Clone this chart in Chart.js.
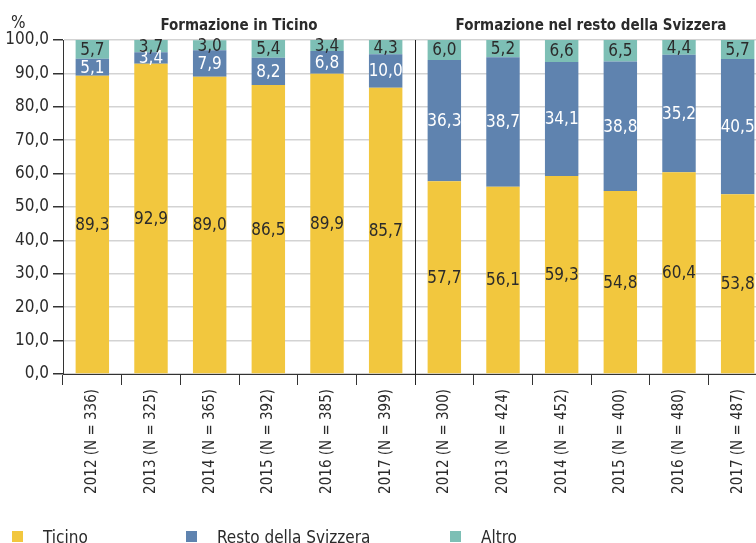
<!DOCTYPE html>
<html lang="it">
<head>
<meta charset="UTF-8">
<title>Formazione</title>
<script src="https://cdn.jsdelivr.net/npm/chart.js"></script>
<style>
  html, body { margin: 0; padding: 0; overflow: hidden; background: #fff; }
  #wrap { position: relative; width: 780px; height: 543px; }
  .leg { position: absolute; top: 527px; font: 17px 'Liberation Sans Narrow', 'DejaVu Sans Condensed', 'Roboto Condensed', sans-serif; color: #2b2b2b; white-space: nowrap; }
  .leg span { display: inline-block; width: 11px; height: 11px; margin-right: 20px; vertical-align: 1px; }
</style>
</head>
<body>
<div id="wrap">
  <canvas id="chart"></canvas>
  <div class="leg" style="left:12px"><span style="background:#f2c73e"></span>Ticino</div>
  <div class="leg" style="left:186px"><span style="background:#5f83af"></span>Resto della Svizzera</div>
  <div class="leg" style="left:450px"><span style="background:#7dbfb5"></span>Altro</div>
</div>
<script>
    const FONT = "'Liberation Sans Narrow', 'DejaVu Sans Condensed', 'Roboto Condensed', sans-serif";

    // data
    const labels = [
        '2012 (N = 336)', '2013 (N = 325)', '2014 (N = 365)', '2015 (N = 392)', '2016 (N = 385)', '2017 (N = 399)',
        '2012 (N = 300)', '2013 (N = 424)', '2014 (N = 452)', '2015 (N = 400)', '2016 (N = 480)', '2017 (N = 487)'
    ];
    const groupTitles = ['Formazione in Ticino', 'Formazione nel resto della Svizzera'];
    const ticino = [89.3, 92.9, 89.0, 86.5, 89.9, 85.7, 57.7, 56.1, 59.3, 54.8, 60.4, 53.8];
    const restoSvizzera = [5.1, 3.4, 7.9, 8.2, 6.8, 10.0, 36.3, 38.7, 34.1, 38.8, 35.2, 40.5];
    const altro = [5.7, 3.7, 3.0, 5.4, 3.4, 4.3, 6.0, 5.2, 6.6, 6.5, 4.4, 5.7];

    function fmt(v) {
        return v.toFixed(1).replace('.', ',');
    }

    // numbers inside the bar segments
    const valueLabels = {
        id: 'valueLabels',
        afterDatasetsDraw(chart) {
            const ctx = chart.ctx;
            ctx.save();
            ctx.font = '17px ' + FONT;
            ctx.textAlign = 'center';
            ctx.textBaseline = 'middle';
            chart.data.datasets.forEach((ds, i) => {
                const meta = chart.getDatasetMeta(i);
                meta.data.forEach((bar, j) => {
                    ctx.fillStyle = ds.labelColor;
                    ctx.fillText(fmt(ds.data[j]), bar.x, (bar.y + bar.base) / 2 + 1);
                });
            });
            ctx.restore();
        }
    };

    // group titles, % sign and the separator line
    const decorations = {
        id: 'decorations',
        afterDraw(chart) {
            const ctx = chart.ctx;
            const x = chart.scales.x;
            const area = chart.chartArea;
            const sepX = (x.getPixelForValue(5) + x.getPixelForValue(6)) / 2;
            ctx.save();
            ctx.strokeStyle = '#222';
            ctx.lineWidth = 1;
            ctx.beginPath();
            ctx.moveTo(Math.round(sepX) + 0.5, area.top);
            ctx.lineTo(Math.round(sepX) + 0.5, area.bottom + 11);
            ctx.stroke();

            ctx.fillStyle = '#2b2b2b';
            ctx.textBaseline = 'alphabetic';
            ctx.textAlign = 'center';
            ctx.font = 'bold 15px ' + FONT;
            const c1 = (x.getPixelForValue(2) + x.getPixelForValue(3)) / 2;
            const c2 = (x.getPixelForValue(8) + x.getPixelForValue(9)) / 2;
            ctx.fillText(groupTitles[0], c1, 30);
            ctx.fillText(groupTitles[1], c2, 30);
            ctx.textAlign = 'left';
            ctx.font = '17px ' + FONT;
            ctx.fillText('%', 11, 28);
            ctx.restore();
        }
    };

    new Chart(document.getElementById('chart'), {
        type: 'bar',
        data: {
            labels: labels,
            datasets: [
                { label: 'Ticino', data: ticino, backgroundColor: '#f2c73e', labelColor: '#2b2b2b' },
                { label: 'Resto della Svizzera', data: restoSvizzera, backgroundColor: '#5f83af', labelColor: '#ffffff' },
                { label: 'Altro', data: altro, backgroundColor: '#7dbfb5', labelColor: '#2b2b2b' }
            ]
        },
        options: {
            responsive: true,
            maintainAspectRatio: false,
            animation: false,
            layout: { padding: { top: 40, right: 13, left: 0, bottom: 0 } },
            datasets: { bar: { barPercentage: 0.57, categoryPercentage: 1.0, borderWidth: 0 } },
            plugins: {
                legend: { display: false },
                tooltip: { enabled: false }
            },
            scales: {
                x: {
                    stacked: true,
                    afterFit(scale) { scale.height = 169; },
                    grid: { offset: true, drawOnChartArea: false, tickLength: 11, tickColor: '#333' },
                    border: { color: '#333', width: 1 },
                    ticks: {
                        minRotation: 90, maxRotation: 90, autoSkip: false, padding: 4,
                        color: '#2b2b2b', font: { family: FONT, size: 15 }
                    }
                },
                y: {
                    stacked: true,
                    min: 0, max: 100,
                    afterFit(scale) { scale.width = 63; },
                    grid: { color: '#d3d3d3', lineWidth: 1.5, tickLength: 10, tickColor: '#333' },
                    border: { color: '#333', width: 1 },
                    ticks: {
                        stepSize: 10, padding: 4,
                        color: '#2b2b2b', font: { family: FONT, size: 17 },
                        callback: v => fmt(v)
                    }
                }
            }
        },
        plugins: [valueLabels, decorations]
    });
</script>
</body>
</html>
